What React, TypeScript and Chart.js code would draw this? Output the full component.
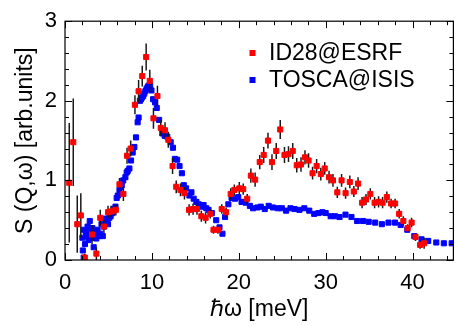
import { useEffect, useRef } from "react";
import { Chart, registerables } from "chart.js";

Chart.register(...registerables);

const FONT = "'Liberation Sans', Arial, Helvetica, sans-serif";

const seriesLabels = ["ID28@ESRF", "TOSCA@ISIS"];
const seriesColors = ["#ff0000", "#0000ff"];
const xTitle = "ℏω [meV]";
const yTitle = "S (Q,ω) [arb.units]";
const xMin = 0;
const xMax = 44.7;
const yMin = 0;
const yMax = 3;

// ID28@ESRF (IXS) — energy, intensity, error
const id28X = [
  0.49, 0.95, 1.41, 1.82, 2.28, 3.11, 3.61, 4.06, 4.48, 4.95, 5.3, 5.6, 5.85, 6.27, 6.72, 7.14, 7.56,
  8.05, 8.47, 8.89, 9.34, 9.76, 10.18, 10.64, 11.02, 11.51, 11.89, 12.38, 12.8, 13.29, 13.75, 14.28,
  14.74, 15.19, 15.69, 16.18, 16.72, 17.09, 17.59, 18.04, 18.54, 19.07, 19.49, 20.06, 20.51, 20.97,
  21.39, 21.88, 22.41, 22.87, 23.36, 23.82, 24.31, 24.77, 25.26, 25.72, 26.21, 26.67, 27.16, 27.62,
  28.03, 28.49, 28.96, 29.44, 29.89, 30.39, 30.84, 31.34, 31.83, 32.29, 32.78, 33.24, 33.73, 34.19,
  34.64, 35.14, 35.63, 36.09, 36.55, 37.04, 37.53, 37.99, 38.46, 38.94, 39.43, 39.89, 40.34, 40.87,
  41.33,
];
const id28Y = [
  0.97, 1.48, 0.45, 0.56, 0.03, 0.32, 0.08, 0.53, 0.42, 0.6, 0.61, 0.62, 0.63, 0.95, 0.83, 1.31, 1.4,
  1.95, 2.12, 2.31, 2.55, 2.25, 1.78, 2.06, 1.66, 1.63, 1.51, 1.18, 0.92, 0.88, 0.84, 0.63,
  0.64, 0.64, 0.55, 0.53, 0.58, 0.38, 0.38, 0.64, 0.6, 0.83, 0.88, 0.9, 0.89, 0.77,
  1.06, 1.01, 1.23, 1.32, 1.5, 1.23, 1.37, 1.64, 1.32, 1.33, 1.37, 1.19, 1.2, 1.29,
  1.25, 1.09, 1.18, 1.08, 1.15, 1.04, 1.0, 0.85, 1.0, 0.84, 0.98, 0.86, 0.96, 0.72,
  0.76, 0.83, 0.72, 0.73, 0.72, 0.79, 0.71, 0.71, 0.58, 0.49, 0.4, 0.47, 0.29, 0.19,
  0.21,
];
const id28Err = [
  0.75, 0.55, 0.36, 0.28, 0.05, 0.12, 0.08, 0.1, 0.08, 0.08, 0.07, 0.07, 0.07, 0.08, 0.09, 0.1, 0.1,
  0.12, 0.14, 0.13, 0.17, 0.14, 0.13, 0.13, 0.1, 0.1, 0.1, 0.1, 0.08, 0.08, 0.08, 0.07,
  0.07, 0.07, 0.07, 0.07, 0.06, 0.05, 0.05, 0.06, 0.06, 0.07, 0.07, 0.08, 0.07, 0.06,
  0.09, 0.09, 0.09, 0.1, 0.1, 0.1, 0.1, 0.12, 0.1, 0.1, 0.1, 0.09, 0.09, 0.09,
  0.09, 0.08, 0.09, 0.08, 0.08, 0.08, 0.08, 0.07, 0.08, 0.07, 0.08, 0.07, 0.08, 0.07,
  0.07, 0.07, 0.07, 0.07, 0.07, 0.07, 0.06, 0.06, 0.06, 0.06, 0.05, 0.06, 0.05, 0.05,
  0.07,
];

// TOSCA@ISIS (INS) — energy, intensity
const toscaX = [
  2.0, 2.05, 2.15, 2.2, 2.3, 2.4, 2.5, 2.6, 2.7, 2.8, 2.85, 2.95, 3.05, 3.15, 3.3, 3.4, 3.5, 3.6,
  3.75, 3.9, 4.05, 4.2, 4.35, 4.5, 4.65, 4.8, 4.95, 5.1, 5.25, 5.43, 5.6, 5.81, 5.95, 6.08, 6.27,
  6.4, 6.53, 6.7, 6.95, 7.1, 7.22, 7.41, 7.6, 7.79, 7.98, 8.17, 8.36, 8.47, 8.62, 8.74, 8.85, 9.0,
  9.12, 9.25, 9.38, 9.5, 9.61, 9.8, 9.95, 10.14, 10.37, 10.56, 10.83, 11.2, 11.47, 11.77, 12.16,
  12.42, 12.65, 12.91, 13.18, 13.45, 13.67, 13.94, 14.32, 14.55, 14.81, 15.12, 15.38, 15.65, 15.95,
  16.26, 16.52, 16.9, 17.4, 17.78, 18.12, 18.42, 18.8, 19.17, 19.56, 19.94, 20.32, 20.78, 21.28,
  21.65, 22.15, 22.53, 22.99, 23.44, 23.93, 24.5, 24.96, 25.45, 25.95, 26.41, 26.98, 27.54, 28.11,
  28.68, 29.17, 29.63, 30.0, 30.57, 31.08, 31.6, 32.28, 32.97, 33.62, 34.3, 34.95, 35.7, 36.47,
  37.23, 37.98, 38.63, 39.39, 40.2, 41.03, 41.8, 42.73, 43.6, 44.5,
];
const toscaY = [
  0.28, 0.12, 0.03, 0.38, 0.2, 0.35, 0.3, 0.42, 0.25, 0.38, 0.49, 0.33, 0.28, 0.4, 0.16, 0.35, 0.3, 0.27,
  0.38, 0.3, 0.33, 0.45, 0.3, 0.42, 0.52, 0.5, 0.45, 0.53, 0.55, 0.59, 0.64, 0.67, 0.78, 0.81, 0.88,
  0.92, 0.94, 1.0, 1.04, 1.1, 1.12, 1.15, 1.25, 1.35, 1.42, 1.54, 1.73, 1.79, 2.0, 2.02, 2.04, 2.06,
  2.09, 2.12, 2.15, 2.17, 2.19, 2.19, 2.13, 2.02, 1.98, 1.91, 1.76, 1.59, 1.56, 1.55, 1.48,
  1.41, 1.27, 1.26, 1.18, 1.09, 0.94, 0.9, 0.81, 0.85, 0.77, 0.73, 0.7, 0.67, 0.69,
  0.65, 0.63, 0.59, 0.5, 0.41, 0.33, 0.54, 0.7, 0.78, 0.77, 0.79, 0.73, 0.72, 0.68,
  0.65, 0.66, 0.67, 0.64, 0.68, 0.66, 0.65, 0.65, 0.62, 0.65, 0.64, 0.63, 0.65, 0.62,
  0.58, 0.59, 0.6, 0.59, 0.55, 0.55, 0.54, 0.57, 0.54, 0.49, 0.49, 0.48, 0.47, 0.45,
  0.47, 0.47, 0.44, 0.38, 0.3, 0.26, 0.24, 0.22, 0.21, 0.21,
];

const errorBarsPlugin = {
  id: "errorBars",
  beforeDatasetDraw(chart: any, args: any) {
    if (args.index !== 0) return;
    const { ctx, chartArea, scales } = chart;
    const xs = scales.x;
    const ys = scales.y;
    ctx.save();
    ctx.beginPath();
    ctx.rect(chartArea.left, chartArea.top, chartArea.right - chartArea.left, chartArea.bottom - chartArea.top);
    ctx.clip();
    ctx.strokeStyle = "#1a1a1a";
    ctx.lineWidth = 1.5;
    ctx.beginPath();
    for (let i = 0; i < id28X.length; i++) {
      const px = xs.getPixelForValue(id28X[i]);
      const y1 = ys.getPixelForValue(id28Y[i] - id28Err[i]);
      const y2 = ys.getPixelForValue(id28Y[i] + id28Err[i]);
      ctx.moveTo(px, y1);
      ctx.lineTo(px, y2);
    }
    ctx.stroke();
    ctx.restore();
  },
};

const framePlugin = {
  id: "frameTicks",
  afterDatasetsDraw(chart: any) {
    const { ctx, chartArea, scales } = chart;
    const { left, right, top, bottom } = chartArea;
    const xs = scales.x;
    const ys = scales.y;
    ctx.save();
    ctx.strokeStyle = "#000";
    ctx.lineWidth = 1;
    ctx.beginPath();
    for (let v = 0; v <= xMax + 1e-6; v += 2) {
      const px = Math.round(xs.getPixelForValue(v)) + 0.5;
      const len = Math.abs(v % 10) < 1e-6 ? 7 : 4;
      ctx.moveTo(px, bottom);
      ctx.lineTo(px, bottom - len);
      ctx.moveTo(px, top);
      ctx.lineTo(px, top + len);
    }
    for (let k = 0; k <= 15; k++) {
      const v = k * 0.2;
      const py = Math.round(ys.getPixelForValue(v)) + 0.5;
      const len = k % 5 === 0 ? 7 : 4;
      ctx.moveTo(left, py);
      ctx.lineTo(left + len, py);
      ctx.moveTo(right, py);
      ctx.lineTo(right - len, py);
    }
    ctx.stroke();
    ctx.lineWidth = 1.2;
    ctx.strokeRect(left, top, right - left, bottom - top);
    ctx.restore();
  },
};

const legendPlugin = {
  id: "insideLegend",
  afterDraw(chart: any) {
    const { ctx } = chart;
    ctx.save();
    ctx.font = `23px ${FONT}`;
    ctx.textBaseline = "middle";
    ctx.textAlign = "left";
    chart.data.datasets.forEach((ds: any, i: number) => {
      const cy = 53 + i * 27;
      ctx.fillStyle = ds.backgroundColor;
      ctx.fillRect(249.5, cy - 3, 6, 6);
      ctx.fillStyle = "#000";
      ctx.fillText(ds.label, 269, cy + 1);
    });
    ctx.restore();
  },
};

export default function App() {
  const ref = useRef<HTMLCanvasElement | null>(null);

  useEffect(() => {
    if (!ref.current) return;
    const chart = new Chart(ref.current, {
      type: "scatter",
      data: {
        datasets: [
          {
            label: seriesLabels[0],
            data: id28X.map((x, i) => ({ x, y: id28Y[i] })),
            backgroundColor: seriesColors[0],
            borderColor: seriesColors[0],
            borderWidth: 1,
            pointStyle: "rect",
            pointRadius: 3.6,
            pointHoverRadius: 3.6,
          },
          {
            label: seriesLabels[1],
            data: toscaX.map((x, i) => ({ x, y: toscaY[i] })),
            backgroundColor: seriesColors[1],
            borderColor: seriesColors[1],
            borderWidth: 1,
            pointStyle: "rect",
            pointRadius: 3.6,
            pointHoverRadius: 3.6,
          },
        ],
      },
      options: {
        animation: false,
        responsive: false,
        events: [],
        layout: { padding: { top: 16, right: 1, left: 0, bottom: 0 } },
        plugins: {
          legend: { display: false },
          tooltip: { enabled: false },
        },
        scales: {
          x: {
            type: "linear",
            min: xMin,
            max: xMax,
            grid: { display: false, drawTicks: false },
            border: { display: false },
            ticks: {
              stepSize: 10,
              includeBounds: false,
              maxRotation: 0,
              autoSkip: false,
              padding: 10,
              color: "#000",
              font: { family: FONT, size: 22 },
            },
            title: {
              display: true,
              text: xTitle,
              color: "#000",
              font: { family: FONT, size: 23 },
              padding: { top: 0, bottom: 3 },
            },
            afterFit(scale: any) {
              scale.height = 66;
            },
          },
          y: {
            type: "linear",
            min: yMin,
            max: yMax,
            grid: { display: false, drawTicks: false },
            border: { display: false },
            ticks: {
              stepSize: 1,
              padding: 8,
              color: "#000",
              font: { family: FONT, size: 22 },
            },
            title: {
              display: true,
              text: yTitle,
              color: "#000",
              font: { family: FONT, size: 23 },
              padding: { top: 12, bottom: 0 },
            },
            afterFit(scale: any) {
              scale.width = 65;
            },
          },
        },
      },
      plugins: [errorBarsPlugin, framePlugin, legendPlugin],
    });
    return () => chart.destroy();
  }, []);

  return (
    <div style={{ position: "absolute", left: 0, top: 0, width: 458, height: 326, background: "#fff" }}>
      <canvas ref={ref} width={458} height={326} style={{ display: "block" }} />
    </div>
  );
}
